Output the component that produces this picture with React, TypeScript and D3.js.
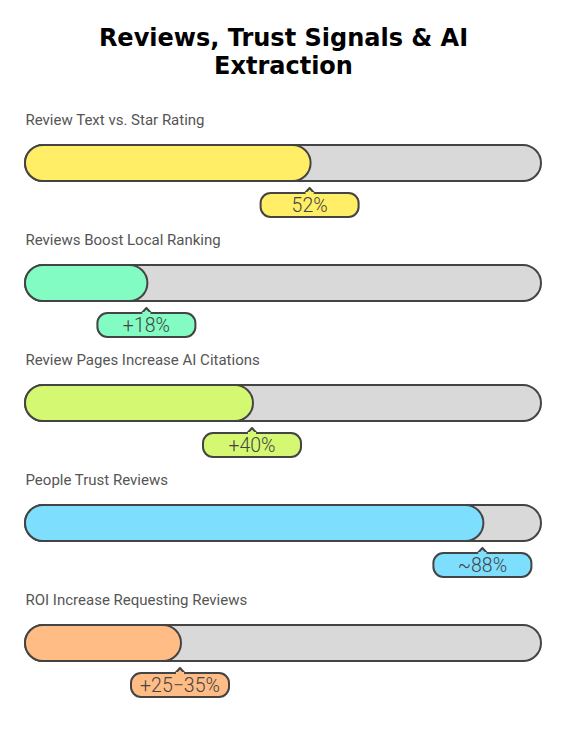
import React from "react";
import * as d3 from "d3";

const categories = [
  "Review Text vs. Star Rating",
  "Reviews Boost Local Ranking",
  "Review Pages Increase AI Citations",
  "People Trust Reviews",
  "ROI Increase Requesting Reviews",
];
const values = [52, 18, 40, 88, 25];
const valueLabels = ["52%", "+18%", "+40%", "~88%", "+25\u221235%"];
const colors = ["#FFEE66", "#82FCC3", "#D5F872", "#7EDEFD", "#FFBC85"];

const W = 565;
const H = 745;
const trackX = 25;
const trackW = 516;
const trackH = 36;
const rowStart = 145;
const rowStep = 120;

export default function App() {
  const fillW = d3.scaleLinear().domain([0, 100]).range([trackH, trackW]);
  const rowY = d3
    .scaleLinear()
    .domain([0, 1])
    .range([rowStart, rowStart + rowStep]);
  const stroke = "#444";
  const boxW = 98;
  const boxH = 24;
  return (
    <svg
      width={W}
      height={H}
      style={{ position: "absolute", left: 0, top: 0, background: "#fff" }}
    >
      <text
        x={W / 2 + 1}
        y={46}
        textAnchor="middle"
        fontFamily="DejaVu Sans"
        fontWeight="bold"
        fontSize={24}
        fill="#000"
      >
        Reviews, Trust Signals &amp; AI
      </text>
      <text
        x={W / 2 + 1}
        y={74}
        textAnchor="middle"
        fontFamily="DejaVu Sans"
        fontWeight="bold"
        fontSize={24}
        fill="#000"
      >
        Extraction
      </text>
      {categories.map((c, i) => {
        const y = rowY(i);
        const w = fillW(values[i]);
        const endX = trackX + w - 1;
        const by = y + trackH + 12;
        const notch = `M${endX - 5},${by + 0.5} L${endX},${by - 5} L${endX + 5},${by + 0.5}`;
        return (
          <g key={c}>
            <text
              x={25.5}
              y={y - 20}
              fontFamily="Roboto"
              fontSize={15}
              fill="#555"
            >
              {c}
            </text>
            <rect
              x={trackX}
              y={y}
              width={trackW}
              height={trackH}
              rx={trackH / 2}
              fill="#D9D9D9"
              stroke={stroke}
              strokeWidth={2}
            />
            <rect
              x={trackX}
              y={y}
              width={w}
              height={trackH}
              rx={trackH / 2}
              fill={colors[i]}
              stroke={stroke}
              strokeWidth={2}
            />
            <rect
              x={endX - boxW / 2}
              y={by}
              width={boxW}
              height={boxH}
              rx={10}
              fill={colors[i]}
              stroke={stroke}
              strokeWidth={2}
            />
            <path d={notch} fill={colors[i]} stroke={stroke} strokeWidth={2} strokeLinejoin="round" />
            <rect x={endX - 4} y={by - 1} width={8} height={3} fill={colors[i]} />
            <text
              x={endX}
              y={by + 19}
              textAnchor="middle"
              fontFamily="Roboto"
              fontWeight={300}
              fontSize={19.5}
              fill="#444"
            >
              {valueLabels[i]}
            </text>
          </g>
        );
      })}
    </svg>
  );
}
